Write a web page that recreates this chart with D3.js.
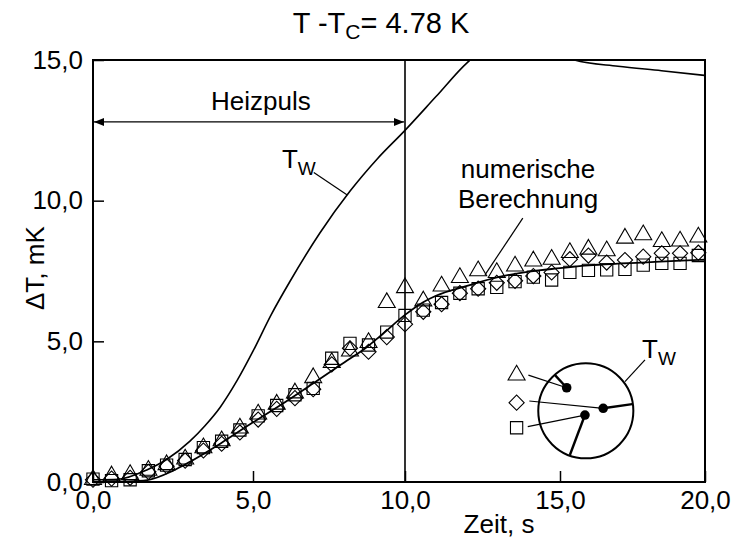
<!DOCTYPE html>
<html>
<head>
<meta charset="utf-8">
<script src="https://cdn.jsdelivr.net/npm/d3@7"></script>
<style>
  body { margin: 0; background: #fff; }
  svg text { font-family: "Liberation Sans", Arial, sans-serif; fill: #000; }
</style>
</head>
<body>
<div id="chart"></div>
<script>

// Measurement times (s)
var times = [0, 0.58, 1.16, 1.73, 2.30, 2.88, 3.45, 4.02, 4.59, 5.17, 5.78, 6.38, 6.98, 7.59,
             8.19, 8.80, 9.40, 10.00, 10.59, 11.18, 11.77, 12.36, 12.96, 13.55, 14.14, 14.73,
             15.34, 15.98, 16.61, 17.24, 17.87, 18.51, 19.14, 19.77];

// Delta T (mK) for the three sensors
var triangleVals = [0.12, 0.25, 0.30, 0.45, 0.65, 0.85, 1.25, 1.50, 1.95, 2.45, 2.80, 3.20, 3.74, 4.28,
                    4.69, 4.99, 6.41, 6.94, 6.47, 7.00, 7.30, 7.54, 7.48, 7.71, 7.89, 7.95,
                    8.19, 8.31, 8.25, 8.70, 8.82, 8.58, 8.60, 8.74];
var diamondVals  = [0.08, 0.12, 0.15, 0.36, 0.56, 0.76, 1.12, 1.36, 1.76, 2.22, 2.60, 2.98, 3.30, 4.18,
                    4.75, 4.63, 5.15, 5.61, 6.05, 6.32, 6.71, 6.87, 7.08, 7.15, 7.32, 7.45,
                    7.92, 8.05, 7.80, 7.89, 8.01, 8.13, 8.13, 8.15];
var squareVals   = [0.10, 0.05, 0.08, 0.40, 0.60, 0.80, 1.22, 1.45, 1.85, 2.35, 2.72, 3.10, 3.33, 4.40,
                    4.93, 4.87, 5.33, 5.92, 6.11, 6.38, 6.71, 6.87, 6.92, 7.12, 7.28, 7.18,
                    7.45, 7.52, 7.54, 7.56, 7.71, 7.77, 7.77, 8.05];

// numerische Berechnung
var modelT = [0, 1.0, 1.7, 2.5, 3.0, 4.0, 5.0, 6.0, 7.0, 8.0, 8.75, 9.2, 10.0, 10.6, 11.0, 12.0, 13.0, 14.0, 15.0, 16.0, 17.0, 18.0, 19.0, 20.0];
var modelV = [0, 0.02, 0.07, 0.40, 0.70, 1.38, 2.12, 2.80, 3.52, 4.25, 4.80, 5.20, 5.94, 6.40, 6.62, 6.97, 7.28, 7.48, 7.60, 7.70, 7.76, 7.81, 7.86, 7.90];

// Wall temperature T_W
var wallT = [0, 0.8, 1.68, 2.3, 3.03, 3.5, 3.97, 4.5, 5.0, 5.6, 6.2, 7.2, 8.2, 9.1, 10.0, 11.0, 12.0, 13.0, 14.0, 15.0, 15.5, 17.0, 18.5, 20.0];
var wallV = [0.08, 0.10, 0.43, 0.80, 1.45, 2.00, 2.65, 3.60, 4.65, 5.95, 7.10, 8.85, 10.35, 11.50, 12.50, 13.70, 14.90, 15.70, 15.90, 15.45, 15.0, 14.78, 14.62, 14.45];

var xTicks = [0, 5, 10, 15, 20];
var yTicks = [0, 5, 10, 15];

// Set margin parameters
var margin = {top: 60, right: 33, bottom: 62, left: 93},
    width = 738 - margin.left - margin.right,
    height = 544 - margin.top - margin.bottom;

// x axis of the scanned figure is slightly uneven, follow its ticks
var x = d3.scaleLinear().domain(xTicks).range([0, 160, 312, 467, 612]);
var y = d3.scaleLinear().domain([0, 15]).range([height, 0]);

var comma = d3.formatLocale({decimal: ",", thousands: ".", grouping: [3], currency: ["", ""]}).format(".1f");

var svg = d3.select('#chart')
    .append('svg')
    .attr('width', 738)
    .attr('height', 544);

var g = svg.append('g')
    .attr('transform', 'translate(' + margin.left + ',' + margin.top + ')');

g.append('clipPath').attr('id', 'plotclip')
  .append('rect').attr('width', width).attr('height', height);

// Title
var title = svg.append('text')
    .attr('x', 381)
    .attr('y', 33)
    .attr('text-anchor', 'middle')
    .style('font-size', '29px');
title.append('tspan').text('T -T');
title.append('tspan').attr('dy', 6).style('font-size', '21px').text('C');
title.append('tspan').attr('dy', -6).text('= 4.78 K');

// Axes with inward ticks
g.append('g')
    .attr('transform', 'translate(0,' + height + ')')
    .call(d3.axisBottom(x).tickValues(xTicks).tickFormat(comma).tickSizeInner(-11).tickSizeOuter(0).tickPadding(9))
    .call(function(a) { a.select('.domain').remove(); })
    .call(function(a) { a.selectAll('line').attr('stroke-width', 1.5); })
    .call(function(a) { a.selectAll('text').style('font-size', '26px').attr('font-family', null); });

g.append('g')
    .call(d3.axisLeft(y).tickValues(yTicks).tickFormat(comma).tickSizeInner(-11).tickSizeOuter(0).tickPadding(10))
    .call(function(a) { a.select('.domain').remove(); })
    .call(function(a) { a.selectAll('line').attr('stroke-width', 1.5); })
    .call(function(a) { a.selectAll('text').style('font-size', '26px').attr('font-family', null); });

// Axis labels
svg.append('text')
    .attr('x', 499)
    .attr('y', 533)
    .attr('text-anchor', 'middle')
    .style('font-size', '26px')
    .text('Zeit, s');

svg.append('text')
    .attr('transform', 'translate(44,' + (margin.top + y(7.6)) + ') rotate(-90)')
    .attr('text-anchor', 'middle')
    .style('font-size', '26px')
    .text('\u0394T, mK');

// End of heating pulse
g.append('line')
    .attr('x1', x(10)).attr('x2', x(10))
    .attr('y1', 0).attr('y2', height)
    .attr('stroke', '#000').attr('stroke-width', 1.6);

// Heizpuls arrow
var defs = svg.append('defs');
defs.append('marker')
    .attr('id', 'arrow')
    .attr('viewBox', '0 0 10 10')
    .attr('refX', 10).attr('refY', 5)
    .attr('markerWidth', 12).attr('markerHeight', 10)
    .attr('markerUnits', 'userSpaceOnUse')
    .attr('orient', 'auto-start-reverse')
  .append('path')
    .attr('d', 'M0,1 L10,5 L0,9 Z')
    .attr('fill', '#000');

g.append('line')
    .attr('x1', x(0) + 1).attr('x2', x(10) - 1)
    .attr('y1', y(12.8)).attr('y2', y(12.8))
    .attr('stroke', '#000').attr('stroke-width', 1.2)
    .attr('marker-start', 'url(#arrow)')
    .attr('marker-end', 'url(#arrow)');

g.append('text')
    .attr('x', x(5.26))
    .attr('y', y(13.23))
    .attr('text-anchor', 'middle')
    .style('font-size', '26px')
    .text('Heizpuls');

// Curves
var line = d3.line()
    .x(function(d) { return x(d[0]); })
    .y(function(d) { return y(d[1]); })
    .curve(d3.curveMonotoneX);

g.append('path')
    .datum(d3.zip(wallT, wallV))
    .attr('clip-path', 'url(#plotclip)')
    .attr('fill', 'none')
    .attr('stroke', '#000')
    .attr('stroke-width', 1.6)
    .attr('d', line);

g.append('path')
    .datum(d3.zip(modelT, modelV))
    .attr('fill', 'none')
    .attr('stroke', '#000')
    .attr('stroke-width', 1.8)
    .attr('d', line);

// T_W label with leader
var tw = g.append('text')
    .attr('x', x(5.95))
    .attr('y', y(11.16))
    .style('font-size', '26px');
tw.append('tspan').text('T');
tw.append('tspan').attr('dy', 7).style('font-size', '19px').text('W');

g.append('line')
    .attr('x1', x(7.0)).attr('y1', y(11.0))
    .attr('x2', x(8.1)).attr('y2', y(10.2))
    .attr('stroke', '#000').attr('stroke-width', 1.2);

// numerische Berechnung label with leader
g.append('text')
    .attr('x', x(13.97)).attr('y', y(10.8))
    .attr('text-anchor', 'middle')
    .style('font-size', '26px')
    .text('numerische');
g.append('text')
    .attr('x', x(13.97)).attr('y', y(9.74))
    .attr('text-anchor', 'middle')
    .style('font-size', '26px')
    .text('Berechnung');
g.append('line')
    .attr('x1', x(13.8)).attr('y1', y(9.38))
    .attr('x2', x(12.58)).attr('y2', y(7.36))
    .attr('stroke', '#000').attr('stroke-width', 1.2);

// Markers
var symTri = d3.symbol().type(d3.symbolTriangle).size(125);
var symSq = d3.symbol().type(d3.symbolSquare).size(150);
var symDia = d3.symbol().type(d3.symbolSquare).size(115);

function drawSeries(vals, sym, rot, dy) {
  g.append('g').selectAll('path')
    .data(d3.zip(times, vals))
    .enter().append('path')
    .attr('d', sym)
    .attr('transform', function(d) { return 'translate(' + x(d[0]) + ',' + (y(d[1]) + dy) + ') rotate(' + rot + ')'; })
    .attr('fill', 'none')
    .attr('stroke', '#000')
    .attr('stroke-width', 1.1);
}
drawSeries(squareVals, symSq, 0, 0);
drawSeries(diamondVals, symDia, 45, 0);
drawSeries(triangleVals, symTri, 0, 1);

// Inset: sensor positions in the cell
var cx = 15.89, cv = 2.53;
var r = y(0) - y(1.69);
g.append('circle')
    .attr('cx', x(cx)).attr('cy', y(cv)).attr('r', r)
    .attr('fill', 'none').attr('stroke', '#000').attr('stroke-width', 2);

var sensors = [
  {mark: symTri, rot: 0, mt: 13.6, mv: 3.8, lt: 13.98, lv: 3.8, dt: 15.23, dv: 3.35, wt: 14.84, wv: 3.80},
  {mark: symDia, rot: 45, mt: 13.6, mv: 2.82, lt: 14.01, lv: 2.88, dt: 16.49, dv: 2.62, wt: 17.49, wv: 2.77},
  {mark: symSq, rot: 0, mt: 13.6, mv: 1.93, lt: 13.96, lv: 1.97, dt: 15.86, dv: 2.38, wt: 15.34, wv: 0.96}
];

sensors.forEach(function(s) {
  // thin leader from legend symbol to sensor
  g.append('line')
    .attr('x1', x(s.lt)).attr('y1', y(s.lv))
    .attr('x2', x(s.dt)).attr('y2', y(s.dv))
    .attr('stroke', '#000').attr('stroke-width', 1.2);
  // thick holder from sensor to wall
  g.append('line')
    .attr('x1', x(s.dt)).attr('y1', y(s.dv))
    .attr('x2', x(s.wt)).attr('y2', y(s.wv))
    .attr('stroke', '#000').attr('stroke-width', 2.4);
  g.append('circle')
    .attr('cx', x(s.dt)).attr('cy', y(s.dv)).attr('r', 4.8)
    .attr('fill', '#000');
  g.append('path')
    .attr('d', s.mark)
    .attr('transform', 'translate(' + x(s.mt) + ',' + y(s.mv) + ') rotate(' + s.rot + ')')
    .attr('fill', 'none').attr('stroke', '#000').attr('stroke-width', 1.1);
});

var tw2 = g.append('text')
    .attr('x', x(17.83))
    .attr('y', y(4.41))
    .style('font-size', '26px');
tw2.append('tspan').text('T');
tw2.append('tspan').attr('dy', 7).style('font-size', '19px').text('W');
g.append('line')
    .attr('x1', x(17.93)).attr('y1', y(4.34))
    .attr('x2', x(17.24)).attr('y2', y(3.57))
    .attr('stroke', '#000').attr('stroke-width', 1.2);

// Frame
g.append('rect')
    .attr('width', width).attr('height', height)
    .attr('fill', 'none').attr('stroke', '#000').attr('stroke-width', 2);

</script>
</body>
</html>
